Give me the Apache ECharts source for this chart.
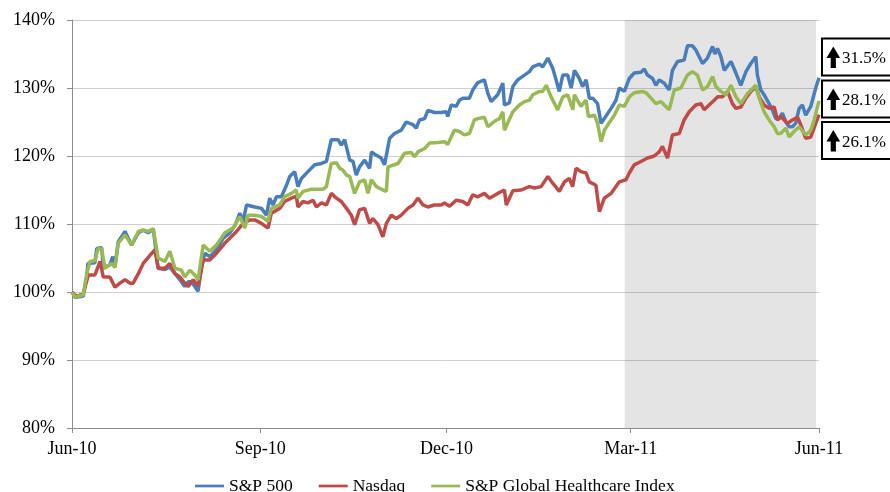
<!DOCTYPE html>
<html>
<head>
<meta charset="utf-8">
<script src="https://cdn.jsdelivr.net/npm/echarts@6/dist/echarts.min.js"></script>
<style>
html, body { margin: 0; padding: 0; background: #fff; }
#chart { width: 890px; height: 492px; }
</style>
</head>
<body>
<div id="chart"></div>
<script>
// x values are days counted from 1 Jun 2010, y values are % of the starting level
var tickDays = [0, 92, 183, 273, 365];
var tickLabels = ['Jun-10', 'Sep-10', 'Dec-10', 'Mar-11', 'Jun-11'];
var shadeDays = [270, 363.5];
var seriesNames = ['S&P 500', 'Nasdaq', 'S&P Global Healthcare Index'];

var spDay = [0,1.5,5.5,7.2,7.8,11.2,12.1,14.5,15.3,18.5,19.9,21,22.6,25.9,29.1,32.4,34.8,37.2,39.7,42.1,
    45.4,47.8,50.3,52.7,55.1,56.8,58.4,60,61.6,63.3,64.9,67.3,70.6,73.8,77.1,79.5,82,83.6,85.3,89.3,
    92.6,95,96.6,98.2,99.9,102.3,104.8,106.4,108.8,110.4,112.1,115.3,118.6,121.9,124.3,126.7,130,131.6,133.2,135.7,
    137.3,138.9,140.5,143,145.4,146.3,148.7,151.1,152.7,155.2,157.6,160.9,163.3,166.6,168.2,169.8,172.3,173.9,177.1,180.4,
    182.9,183.6,185.3,187.7,189.3,191,194.2,195.8,198.3,201.5,203.2,204.8,208,210.5,211.3,213.7,215.4,217.8,221.1,223.5,
    225.1,228.4,230,232.5,234.9,236.5,238.1,239.8,242.2,243.9,245.5,247.9,249.5,251.2,252.8,254.4,256.8,258.5,260.1,263.4,
    265.8,267.4,269.9,272.3,274.7,278,279.6,281.2,283.7,285.3,286.9,289.4,291.8,293.4,295.9,299.1,300.7,303.2,304.8,308.1,
    310.5,313,314.1,315.4,317.1,318.7,322,324.4,326.8,329.3,331.7,334.1,334.9,336.6,338.2,340.6,342.2,343.9,345.5,347.1,
    348.8,350.4,352,353.6,355.3,356.9,358.5,361,363.4,365];
var spVal = [100,99.2,99.4,102.2,104.2,104.3,106.4,106.5,103.5,104,105.2,103.7,107.4,108.9,106.9,108.7,109.1,108.7,109.3,103.5,
    103.3,103.7,102.7,101.8,100.8,101.5,101.5,100.8,100.1,103.7,105.7,105.2,106.2,107.9,108.7,109.7,111.6,110.4,112.8,112.5,
    112.3,111.3,113.8,112.8,114,114,115.7,117,117.7,115.5,116.7,117.7,118.7,118.9,119.2,122.4,122.4,121.6,122.4,119.4,
    119.2,117.2,118.4,119.4,118.2,120.6,120.1,119.7,118.7,122.6,123.3,123.8,125,124.6,124.1,125.3,125.5,126.7,126.4,126.4,
    126.5,125.8,127.5,127.3,128.2,128.5,128.5,129.7,130.8,131.2,129.2,128,129,130.7,127.5,127.8,130.2,131.2,131.9,132.4,
    133.1,133.5,133.1,134.4,132.9,131.2,129.5,131.9,131.9,130,132.6,131.4,130.2,131.2,128.5,128.5,127.7,124.8,125.5,127,
    128.2,130,129.5,131.4,132.2,132.3,132.8,131.9,131.4,130.4,131.2,130.7,129.7,132.6,133.9,134.1,136.2,136.2,135.6,133.6,
    134.4,136.1,135,135.8,134.6,132.6,133.9,132.2,130.4,132.4,133.6,134.6,131.9,129.7,129,127.7,126.8,125.5,125.5,126.3,
    125,124.3,124.3,124.8,127,127.5,126,127.3,130,131.5];

var ndDay = [0,2.3,5.5,8,11.2,13.7,15.3,18.5,21,23.4,25.9,28.3,29.9,32.4,34.8,38.1,40.5,42.1,45.4,47.8,
    50.3,52.7,55.1,56.8,59.2,61.6,64.1,67.3,70.6,74.7,77.1,80.4,83.6,86.9,89.3,92.6,95.8,97.4,101.5,103.9,
    107.2,109.6,110.4,112.9,115.3,117.8,119.4,121.9,124.3,126.7,129.2,131.6,134.1,136.5,138.1,140.5,143,145.4,147,149.5,
    151.9,153.6,156,158.5,160.9,164.1,166.6,169,171.5,173.9,177.1,180.4,182,184.5,187.7,191,193.4,195.8,198.3,201.5,
    204,208,211.3,212.2,215.4,219.5,223.5,226,229.2,232.5,234.9,238.1,240.6,243,244.6,246.3,248.7,251.2,252.8,256,
    257.7,260.1,263.4,265.8,267.4,270.7,272.3,274.7,278,281.2,284.5,286.9,288.5,291,293.4,296.7,299.1,301.6,304.8,307.3,
    308.9,311.3,313.8,315.4,317.8,320.3,322.7,324.4,326.8,329.3,331.7,334.1,335.8,338.2,340.6,343.1,344.7,346.3,348,349.6,
    352,354.5,356.1,358.5,361,363.4,365];
var ndVal = [100,99.3,99.8,102.5,102.5,104.5,102.2,102.2,100.7,101.3,101.8,101.3,101.3,102.7,104.2,105.4,106.2,103.5,103.5,104.2,
    102.7,102.2,101.3,100.8,101.8,100.9,104.7,104.7,105.7,107.2,107.9,108.9,110.1,110.6,110.6,110.1,109.4,111.6,112.3,113.3,
    113.8,114.1,112.5,113.3,113.1,113.5,112.5,113.1,112.8,114.5,113.8,113.3,112.3,111.3,109.9,112.1,112.3,110.1,110.8,109.9,
    108.1,110.1,111.3,110.8,111.3,112.3,112.8,113.8,112.8,112.5,112.8,112.8,113.1,112.6,113.5,113.3,112.8,114.3,114,114.5,
    113.8,114.5,115,112.8,114.9,115,115.5,115.3,115.5,117,116,114.8,116.2,116.7,115.5,118.2,117.7,117.5,116.2,115.7,
    111.8,113.8,114.5,115.5,116.2,116.5,117.5,118.7,119.2,119.7,120,120.6,121.4,119.7,123.1,123.3,125.3,126.5,127.5,127.7,
    126.8,127.5,128.2,128.7,128.7,129.5,127.7,127,127.2,128.5,129.5,130.2,128.7,127.5,127,127.2,125.3,125.8,125.3,124.8,
    125.3,125.7,124.6,122.6,122.8,124.8,126.1];

var hcDay = [0,1.5,5.5,7.2,8.8,11.2,12.8,14.5,16.1,19.4,21,22.6,25.9,29.1,32.4,34.8,37.2,39.7,42.1,45.4,
    47.8,50.3,53.5,55.1,57.6,60,61.6,64.1,67.3,70.6,74.7,78.7,82,84.4,86,89.3,92.6,95.8,97.4,101.5,
    103.9,107.2,109.6,110.4,112.9,117,122.6,124.3,126.7,129.2,130.8,132.4,134.1,135.7,138.1,140.5,143,144.6,146.3,148.7,
    151.9,153.6,154.4,159.3,162.5,165.8,167.4,169,172.3,174.7,178.8,182,183.6,186.8,189.3,191.7,194.2,196.6,198.3,201.5,
    203.2,206.4,208.9,210.5,211.3,215.4,218.6,221.1,223.5,225.1,228.4,230,231.7,234.1,237.3,239.8,242.2,244.7,245.5,248.7,
    251.2,252.3,255.3,256.8,258.5,260.1,263.4,265,267.4,269.9,272.3,274.7,278.8,280.5,282.9,285.3,287.8,289.4,291.8,294.3,
    297.5,300.7,303.2,305.6,308.1,310.5,313,314.6,317.1,319.5,322,324.4,326.8,330.1,334.1,335.8,338.2,340.6,343.1,344.7,
    346.3,348.8,350.4,352.8,355.3,358.5,361,362.6,365];
var hcVal = [100,99.2,99.6,102.7,104.5,104.6,106.4,106.3,103.5,104.2,103.6,107.2,108.4,106.9,108.9,109.1,108.9,109.3,105,104.5,
    106,103.5,103.2,102.2,103.2,102.5,101.8,106.9,106,106.9,108.7,109.4,111.1,109.4,111.3,111.3,111.1,110.4,112.3,112.8,
    114,114.5,115,113.8,114.8,115.1,115.1,115.5,118.9,119,118.2,117.9,117.2,117,114.5,116.2,116.5,114.5,116.5,115.5,
    115,114.8,118.4,118.9,120.4,120.5,119.9,120.6,121.1,121.9,122,122.1,121.7,123.8,123.6,123.1,123.3,125.3,125.5,125.7,
    124.3,125.1,125.5,126.5,123.8,126.5,127.5,128,128.2,129,129.5,129.5,130.4,128.7,126.8,128.7,129,126.8,129,127.3,
    128.2,125.8,126,124.8,122.1,123.8,125.3,126,127.5,127.3,128.7,129.3,129.5,129.3,128.5,127.7,128,127.5,126.8,129.7,
    130,131.9,132.4,131.9,129.7,130.2,131.7,130.2,129.5,129,130.4,128.7,127.7,129.2,130.4,128.5,126.5,125.3,124.3,123.3,
    123.3,124.1,122.8,123.6,124.3,123.1,123.8,125.3,128.1];

var fontName = '"Liberation Serif"';

function pairs(days, vals) {
    return days.map(function (d, i) { return [d, vals[i]]; });
}

function gain(vals) {
    return (vals[vals.length - 1] - 100).toFixed(1) + '%';
}

// boxed "up arrow + gain" note on the right edge
function callout(y, text) {
    return {
        type: 'group', x: 822, y: y,
        children: [
            {type: 'rect', shape: {x: 0, y: 0, width: 80, height: 37}, style: {fill: '#fff', stroke: '#000', lineWidth: 2}},
            {type: 'polygon', shape: {points: [[11.3, 8], [4.5, 19.5], [18.1, 19.5]]}, style: {fill: '#000'}},
            {type: 'rect', shape: {x: 8.7, y: 19, width: 5.2, height: 10.5}, style: {fill: '#000'}},
            {type: 'text', x: 20, y: 20.5, style: {text: text, font: '17px ' + fontName, fill: '#000', verticalAlign: 'middle'}}
        ]
    };
}

var myChart = echarts.init(document.getElementById('chart'));
var lineColors = ['#4a7ebb', '#be4b48', '#98b954'];

myChart.setOption({
    animation: false,
    color: lineColors,
    grid: {left: 72, right: 71, top: 20, bottom: 64},
    legend: {
        left: 190,
        top: 472,
        itemWidth: 29,
        itemHeight: 14,
        itemGap: 26,
        icon: 'path://M0,0L32,0L32,3L0,3Z',
        textStyle: {fontFamily: fontName, fontSize: 17.5, color: '#000'},
        data: seriesNames
    },
    xAxis: {
        type: 'value',
        min: 0,
        max: 365,
        splitLine: {show: false},
        axisLine: {lineStyle: {color: '#8c8c8c'}},
        axisTick: {show: true, length: 5, customValues: tickDays, lineStyle: {color: '#8c8c8c'}},
        axisLabel: {
            customValues: tickDays,
            margin: 12,
            fontFamily: fontName,
            fontSize: 18,
            color: '#000',
            formatter: function (v) { return tickLabels[tickDays.indexOf(v)]; }
        }
    },
    yAxis: {
        type: 'value',
        min: 80,
        max: 140,
        interval: 10,
        axisLine: {show: true, lineStyle: {color: '#8c8c8c'}},
        axisTick: {show: true, length: 5, lineStyle: {color: '#8c8c8c'}},
        splitLine: {lineStyle: {color: '#cfcfcf', width: 1}},
        axisLabel: {formatter: '{value}%', margin: 17, fontFamily: fontName, fontSize: 18, color: '#000'}
    },
    series: [
        {
            name: seriesNames[0], type: 'line', symbol: 'none',
            lineStyle: {width: 3.5}, data: pairs(spDay, spVal),
            markArea: {
                silent: true,
                itemStyle: {color: 'rgba(0,0,0,0.105)'},
                data: [[{xAxis: shadeDays[0]}, {xAxis: shadeDays[1]}]]
            }
        },
        {name: seriesNames[1], type: 'line', symbol: 'none', lineStyle: {width: 3.5}, data: pairs(ndDay, ndVal)},
        {name: seriesNames[2], type: 'line', symbol: 'none', lineStyle: {width: 3.5}, data: pairs(hcDay, hcVal)}
    ],
    graphic: [
        callout(38.5, gain(spVal)),
        callout(80.5, gain(hcVal)),
        callout(122, gain(ndVal))
    ]
});
</script>
</body>
</html>
